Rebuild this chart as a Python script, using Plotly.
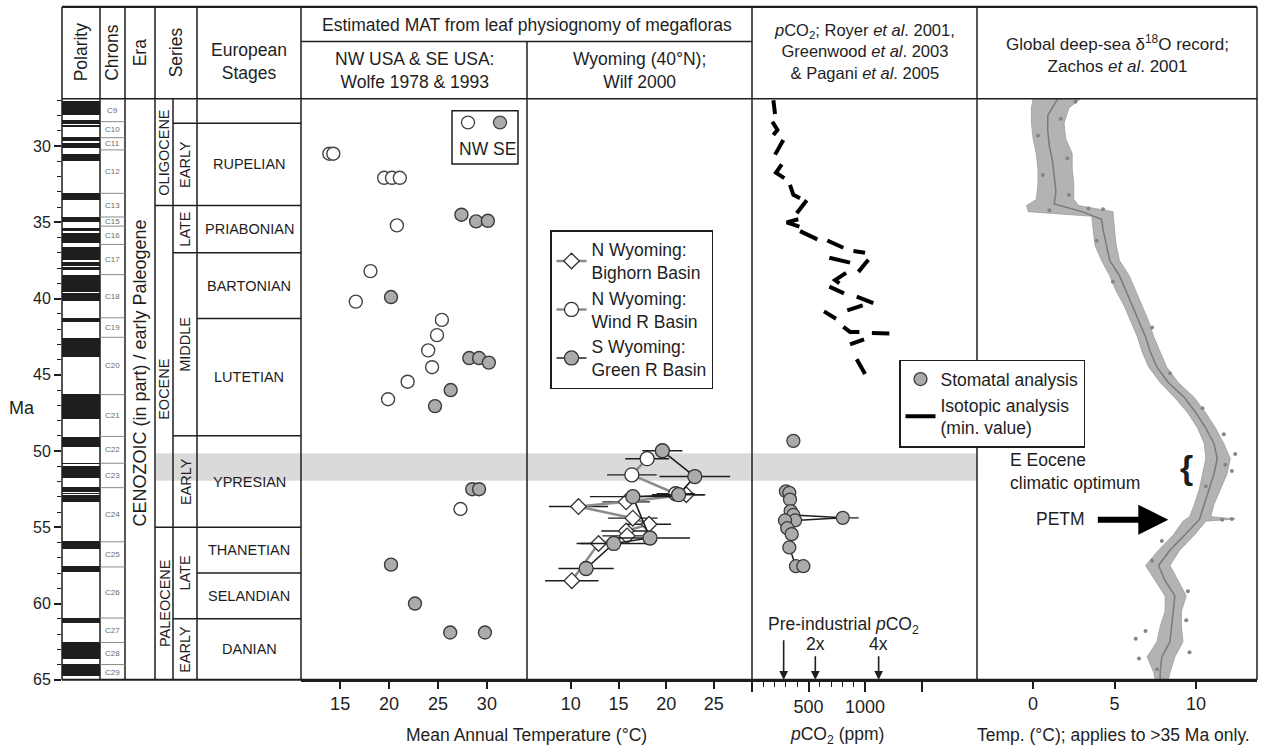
import plotly.graph_objects as go

W, H = 1269, 755
def PX(x):
    return x / W
def PY(y):
    return 1 - y / H

FONT = "Liberation Sans, Arial, Helvetica, sans-serif"
INK = "#1e1e1e"

# ---------------- DATA ----------------
# Geomagnetic polarity: normal (black) chrons, Ma (young / old)
normal_young = [27.03, 28.28, 28.58, 29.40, 29.77, 30.48, 33.06, 34.66, 35.34, 35.69, 36.62, 37.60, 37.92,
                38.43, 39.63, 41.26, 42.54, 46.26, 49.04, 50.78, 50.95, 52.36, 52.76, 52.90, 55.90, 57.55,
                60.92, 62.50, 63.98]
normal_old = [27.97, 28.51, 28.75, 29.66, 30.10, 30.94, 33.55, 34.94, 35.53, 36.34, 37.47, 37.85, 38.11,
              39.55, 40.13, 41.52, 43.79, 47.91, 49.71, 50.83, 51.74, 52.66, 52.80, 53.35, 56.39, 57.91,
              61.28, 63.63, 64.75]

# Chrons (labels and their upper boundaries, Ma)
chron_names = ["C9", "C10", "C11", "C12", "C13", "C15", "C16", "C17", "C18", "C19", "C20", "C21", "C22",
               "C23", "C24", "C25", "C26", "C27", "C28", "C29"]
chron_top = [26.9, 28.4, 29.45, 30.25, 33.1, 34.65, 35.25, 36.45, 38.43, 41.26, 42.54, 46.3, 49.04, 50.8,
             52.4, 55.95, 57.6, 60.95, 62.55, 64.0]
chron_base = chron_top[1:] + [65.0]

# Epochs / sub-epochs / European stages (Ma)
epoch_names = ["OLIGOCENE", "EOCENE", "PALEOCENE"]
epoch_top = [26.9, 33.9, 55.0]
epoch_base = [33.9, 55.0, 65.0]

subepoch_names = ["EARLY", "LATE", "MIDDLE", "EARLY", "LATE", "EARLY"]
subepoch_top = [28.5, 33.9, 37.0, 49.0, 55.0, 61.0]
subepoch_base = [33.9, 37.0, 49.0, 55.0, 61.0, 65.0]

stage_names = ["RUPELIAN", "PRIABONIAN", "BARTONIAN", "LUTETIAN", "YPRESIAN", "THANETIAN", "SELANDIAN", "DANIAN"]
stage_top = [28.5, 33.9, 37.0, 41.3, 49.0, 55.0, 58.0, 61.0]
stage_base = [33.9, 37.0, 41.3, 49.0, 55.0, 58.0, 61.0, 65.0]

optimum_band = [50.15, 51.95]   # E Eocene climatic optimum (Ma)

# Panel 1: Wolfe 1978 & 1993 MAT (deg C)
nw_age = [30.5, 30.5, 32.08, 32.08, 32.08, 35.2, 38.2, 40.2, 41.4, 42.4, 43.4, 44.5, 45.45, 46.6, 53.8]
nw_temp = [13.9, 14.3, 19.5, 20.3, 21.1, 20.8, 18.1, 16.6, 25.4, 24.9, 24.0, 24.4, 21.9, 19.9, 27.3]
se_age = [34.5, 34.94, 34.9, 39.9, 43.9, 43.9, 44.2, 46.0, 47.05, 52.5, 52.5, 57.45, 60.0, 61.9, 61.9]
se_temp = [27.4, 28.9, 30.1, 20.2, 28.2, 29.2, 30.2, 26.3, 24.7, 28.5, 29.2, 20.2, 22.65, 26.25, 29.8]

# Panel 2: Wyoming, Wilf 2000
bighorn_age = [52.86, 53.33, 53.64, 54.4, 54.8, 55.24, 55.56, 56.06, 58.5]
bighorn_temp = [22.1, 15.8, 10.8, 16.5, 18.2, 15.8, 15.9, 12.9, 10.1]
bighorn_err = [1.9, 2.5, 3.1, 2.6, 2.3, 2.6, 2.6, 2.3, 2.8]
windr_age = [50.5, 51.56, 52.8]
windr_temp = [18.0, 16.4, 21.0]
windr_err = [2.3, 2.6, 2.0]
greenr_age = [49.98, 51.67, 52.86, 52.99, 55.7, 56.06, 57.7]
greenr_temp = [19.6, 23.0, 21.3, 16.5, 18.3, 14.5, 11.6]
greenr_err = [2.1, 3.7, 2.8, 4.5, 4.2, 3.5, 2.9]

# Panel 3: pCO2 (ppm)
stom_age = [49.33, 52.64, 52.74, 53.18, 53.94, 54.19, 54.38, 54.55, 54.55, 55.06, 55.45, 56.32, 57.55, 57.55]
stom_ppm = [366, 300, 330, 336, 342, 366, 803, 381, 292, 312, 351, 330, 389, 454]
stom_err_plus = [0, 0, 0, 0, 0, 0, 140, 0, 0, 0, 0, 0, 0, 0]
stom_linked = [False, True, True, True, True, True, True, True, True, True, True, True, True, False]

iso_seg_ppm = [[189, 204], [180, 225, 189], [277, 204], [263, 212, 286], [336, 366, 425], [484, 396],
               [410, 307, 419], [425, 578], [666, 808], [897, 1000], [684, 867], [1029, 941],
               [832, 735, 773], [684, 814], [926, 1073], [843, 979], [637, 743], [808, 867, 950],
               [1060, 1215], [867, 991], [926, 1000]]
iso_seg_age = [[27.0, 27.9], [28.4, 28.94, 29.27], [29.6, 30.56], [31.2, 31.75, 32.1], [32.55, 33.2, 33.42],
               [33.55, 34.4], [34.8, 35.0, 35.28], [35.58, 36.12], [36.19, 36.67], [36.88, 36.99],
               [37.32, 37.64], [37.45, 38.25], [38.31, 38.79, 39.0], [39.22, 39.66], [39.87, 40.3],
               [40.78, 40.45], [40.84, 41.32], [41.86, 42.19, 42.19], [42.25, 42.29], [43.0, 42.68],
               [43.98, 44.95]]

preindustrial_ppm = 280
co2_multiples = [1, 2, 4]

# Panel 4: deep-sea d18O temperature (deg C)
band_age = [26.9, 27.5, 28.5, 29.5, 30.5, 31.5, 32.5, 33.5, 33.9, 34.3, 34.6, 35.5, 36.5, 37.5, 38.5, 39.5,
            40.5, 41.5, 42.5, 43.5, 44.5, 45.5, 46.5, 47.5, 48.5, 49.5, 50.5, 51.5, 52.5, 53.5, 54.3, 54.45,
            54.6, 55.5, 56.5, 57.5, 58.5, 59.5, 60.5, 61.5, 62.5, 63.5, 64.5, 65.0]
band_left = [0.0, -0.1, -0.1, 0.0, 0.2, 0.3, 0.3, 0.2, -0.4, -0.3, 3.6, 3.7, 3.8, 4.2, 4.7, 5.1, 5.6, 6.0,
             6.4, 6.7, 7.1, 7.8, 8.7, 9.5, 10.1, 10.5, 10.6, 10.4, 10.2, 9.9, 9.6, 9.4, 9.2, 8.6, 7.7, 6.9,
             7.5, 8.1, 8.1, 7.8, 7.6, 7.0, 7.4, 7.5]
band_right = [2.9, 2.2, 1.9, 2.0, 2.4, 2.4, 2.5, 2.5, 2.8, 4.9, 4.9, 5.0, 5.1, 5.3, 5.9, 6.3, 6.7, 7.1, 7.4,
              7.8, 8.2, 8.9, 9.9, 10.6, 11.2, 11.7, 12.1, 11.9, 11.5, 11.1, 10.9, 12.4, 10.6, 9.9, 9.0, 8.4,
              8.9, 9.4, 9.1, 9.1, 9.2, 8.7, 8.4, 8.3]
trend_age = [26.9, 28, 29, 30, 31, 32, 33, 33.8, 34.3, 34.8, 35.5, 36.5, 37.5, 38.5, 39.5, 40.5, 41.5, 42.5,
             43.5, 44.5, 45.5, 46.5, 47.5, 48.5, 49.5, 50.5, 51.5, 52.5, 53.5, 54.5, 55.5, 56.5, 57.5, 58.5,
             59.5, 60.5, 61.5, 62.5, 63.5, 64.5, 65]
trend_temp = [1.5, 0.9, 0.9, 1.0, 1.2, 1.3, 1.4, 1.3, 3.0, 4.2, 4.3, 4.5, 4.7, 5.3, 5.7, 6.1, 6.5, 6.9, 7.2,
              7.6, 8.3, 9.3, 10.0, 10.6, 11.1, 11.3, 11.1, 10.8, 10.5, 10.2, 9.3, 8.4, 7.7, 8.1, 8.7, 8.6,
              8.5, 8.4, 7.9, 7.8, 7.8]
scatter_age = [27.1, 28.2, 29.3, 30.8, 31.9, 33.2, 34.1, 34.2, 34.15, 36.2, 38.9, 41.9, 44.9, 47.2, 48.9,
               50.2, 50.9, 51.3, 52.3, 54.45, 54.5, 55.9, 57.2, 59.2, 61.1, 61.8, 62.3, 63.2, 63.6, 64.3]
scatter_temp = [2.6, 1.7, 0.3, 2.1, 0.6, 2.2, 3.4, 1.0, 4.3, 3.9, 4.9, 7.3, 8.4, 10.4, 11.7, 12.4, 11.8,
                12.2, 10.6, 12.2, 11.6, 7.9, 7.3, 9.5, 9.4, 6.9, 6.3, 9.6, 6.5, 7.6]
petm_age = 54.5
petm_temp = 8.3

# ---------------- FIGURE ----------------
fig = go.Figure()

# Polarity column (bars on the age axis)
fig.add_trace(go.Bar(
    x=[0.5] * len(normal_young), y=[o - y for y, o in zip(normal_young, normal_old)], base=normal_young,
    width=[1.0] * len(normal_young), marker=dict(color=INK, line=dict(width=0)),
    xaxis="x", yaxis="y", showlegend=False, hoverinfo="skip"))

# Panel 1
fig.add_trace(go.Scatter(x=nw_temp, y=nw_age, mode="markers", xaxis="x2", yaxis="y", showlegend=False,
                         marker=dict(symbol="circle", size=13, color="white", line=dict(color="#444", width=1.4))))
fig.add_trace(go.Scatter(x=se_temp, y=se_age, mode="markers", xaxis="x2", yaxis="y", showlegend=False,
                         marker=dict(symbol="circle", size=13, color="#ababab", line=dict(color="#3a3a3a", width=1.4))))

# Panel 2
def wy(name, ages, temps, errs, symbol, fill, lcol, lw, size):
    return go.Scatter(
        x=temps, y=ages, mode="lines+markers", name=name, xaxis="x3", yaxis="y", legend="legend",
        line=dict(color=lcol, width=lw),
        marker=dict(symbol=symbol, size=size, color=fill, line=dict(color="#333", width=1.3)),
        error_x=dict(type="data", array=errs, symmetric=True, color=INK, thickness=1.4, width=0))

fig.add_trace(wy("N Wyoming:<br>Bighorn Basin", bighorn_age, bighorn_temp, bighorn_err,
                 "diamond", "white", "#8c8c8c", 2.5, 12))
fig.add_trace(wy("N Wyoming:<br>Wind R Basin", windr_age, windr_temp, windr_err,
                 "circle", "white", "#8c8c8c", 2.5, 14))
fig.add_trace(wy("S Wyoming:<br>Green R Basin", greenr_age, greenr_temp, greenr_err,
                 "circle", "#ababab", INK, 1.6, 14))

# Panel 3
link_ppm = [p for p, k in zip(stom_ppm, stom_linked) if k]
link_age = [a for a, k in zip(stom_age, stom_linked) if k]
fig.add_trace(go.Scatter(x=link_ppm, y=link_age, mode="lines", xaxis="x4", yaxis="y", showlegend=False,
                         line=dict(color=INK, width=1.5)))
fig.add_trace(go.Scatter(x=stom_ppm, y=stom_age, mode="markers", name="Stomatal analysis", xaxis="x4",
                         yaxis="y", legend="legend2",
                         marker=dict(symbol="circle", size=13, color="#ababab", line=dict(color="#3a3a3a", width=1.3)),
                         error_x=dict(type="data", array=stom_err_plus, arrayminus=[0] * len(stom_ppm),
                                      symmetric=False, color=INK, thickness=1.4, width=0)))
iso_x, iso_y = [], []
for sp, sa in zip(iso_seg_ppm, iso_seg_age):
    iso_x += sp + [None]
    iso_y += sa + [None]
fig.add_trace(go.Scatter(x=iso_x, y=iso_y, mode="lines", name="Isotopic analysis<br>(min. value)",
                         xaxis="x4", yaxis="y", legend="legend2", connectgaps=False,
                         line=dict(color="black", width=4)))

# Panel 4
fig.add_trace(go.Scatter(x=band_left + band_right[::-1], y=band_age + band_age[::-1], mode="lines",
                         fill="toself", fillcolor="#b3b3b3", line=dict(color="#9c9c9c", width=0.8),
                         xaxis="x5", yaxis="y", showlegend=False, hoverinfo="skip"))
fig.add_trace(go.Scatter(x=scatter_temp, y=scatter_age, mode="markers", xaxis="x5", yaxis="y", showlegend=False,
                         marker=dict(size=4, color="#858585")))
fig.add_trace(go.Scatter(x=trend_temp, y=trend_age, mode="lines", xaxis="x5", yaxis="y", showlegend=False,
                         line=dict(color="#7a7a7a", width=1.5)))

# ---------------- SHAPES (table grid) ----------------
shapes = []
LW = 1.5
def vline(x, y0, y1, w=LW):
    shapes.append(dict(type="line", xref="paper", yref="paper", x0=PX(x), x1=PX(x), y0=PY(y0), y1=PY(y1),
                       line=dict(color=INK, width=w), layer="above"))
def hline(x0, x1, y, w=LW):
    shapes.append(dict(type="line", xref="paper", yref="paper", x0=PX(x0), x1=PX(x1), y0=PY(y), y1=PY(y),
                       line=dict(color=INK, width=w), layer="above"))
def hage(x0, x1, age, color=INK, w=LW):
    shapes.append(dict(type="line", xref="paper", yref="y", x0=PX(x0), x1=PX(x1), y0=age, y1=age,
                       line=dict(color=color, width=w), layer="above"))

# gray optimum band
shapes.append(dict(type="rect", xref="paper", yref="y", x0=PX(156), x1=PX(977),
                   y0=optimum_band[0], y1=optimum_band[1], fillcolor="#dadada", line=dict(width=0), layer="below"))

for x in [62, 100, 125, 155, 197, 301, 752, 977, 1257]:
    vline(x, 7, 688)
vline(173, 100, 688)
vline(527, 42, 688)
hline(62, 1257, 7, 2.2)
hline(62, 1257, 100)
hline(301, 752, 42)
hline(62, 1257, 688, 2)

for a in chron_top[1:]:
    hage(100, 125, a, "#8a8a8a", 1)
for a in epoch_top[1:]:
    hage(155, 173, a)
for a in subepoch_top:
    hage(173, 197, a)
for a in stage_top:
    hage(197, 301, a)

# NW/SE key
shapes.append(dict(type="rect", xref="paper", yref="paper", x0=PX(452), x1=PX(518), y0=PY(166), y1=PY(112),
                   line=dict(color=INK, width=1.5), fillcolor="white"))
for cx, col in [(468, "white"), (500, "#ababab")]:
    shapes.append(dict(type="circle", xref="paper", yref="paper", x0=PX(cx - 6.5), x1=PX(cx + 6.5),
                       y0=PY(124 + 6.5), y1=PY(124 - 6.5), fillcolor=col, line=dict(color="#444", width=1.3)))

# ---------------- ANNOTATIONS ----------------
ann = []
def text(x, y, s, size=17.5, angle=0, color=INK, xanchor="center", align="center", yref="paper", xref="paper"):
    ann.append(dict(x=x, y=y, xref=xref, yref=yref, text=s, showarrow=False, textangle=angle,
                    font=dict(size=size, color=color, family=FONT), xanchor=xanchor, yanchor="middle",
                    align=align))

# headers
text(PX(81), PY(53), "Polarity", angle=-90)
text(PX(112.5), PY(53), "Chrons", angle=-90)
text(PX(140), PY(53), "Era", angle=-90)
text(PX(176), PY(53), "Series", angle=-90)
text(PX(249), PY(62), "European<br>Stages")
text(PX(526.5), PY(25), "Estimated MAT from leaf physiognomy of megafloras")
text(PX(414), PY(71), "NW USA & SE USA:<br>Wolfe 1978 & 1993")
text(PX(639.5), PY(71), "Wyoming (40°N);<br>Wilf 2000")
text(PX(864.5), PY(52), "<i>p</i>CO<sub>2</sub>; Royer <i>et al</i>. 2001,<br>Greenwood <i>et al</i>. 2003<br>& Pagani <i>et al</i>. 2005", size=16.5)
text(PX(1117), PY(55), "Global deep-sea δ<sup>18</sup>O record;<br>Zachos <i>et al</i>. 2001", size=17)

# chron labels
for n, t, b in zip(chron_names, chron_top, chron_base):
    text(PX(112.5), (t + b) / 2, n, size=8, color="#6a6a6a", yref="y")
# era
text(PX(140), PY(378), "CENOZOIC (in part) / early Paleogene", size=18, angle=-90)
# epochs
epoch_shift = {"EOCENE": 1.5}
for n, t, b in zip(epoch_names, epoch_top, epoch_base):
    text(PX(164.5), (t + b) / 2 + epoch_shift.get(n, 0), n, size=14.5, angle=-90, yref="y")
for n, t, b in zip(subepoch_names, subepoch_top, subepoch_base):
    text(PX(185.5), (t + b) / 2, n, size=14.5, angle=-90, yref="y")
for n, t, b in zip(stage_names, stage_top, stage_base):
    text(PX(249), (t + b) / 2, n, size=14.5, yref="y")

text(PX(22), PY(413), "Ma", size=18)
text(PX(487), PY(151), "NW SE", size=17.5)

# axis titles
text(PX(526.5), PY(744), "Mean Annual Temperature (°C)", size=17.5)
text(PX(837), PY(744), "<i>p</i>CO<sub>2</sub> (ppm)", size=17.5)
text(PX(1113), PY(744), "Temp. (°C); applies to >35 Ma only.", size=17.5)

# pCO2 reference arrows
for m in co2_multiples:
    ann.append(dict(x=preindustrial_ppm * m, y=65, xref="x4", yref="y", text="", showarrow=True,
                    ax=0, ay=-41 if m == 1 else -25, arrowhead=2, arrowsize=1.1, arrowwidth=1.6,
                    arrowcolor=INK))
    if m > 1:
        ann.append(dict(x=preindustrial_ppm * m, y=PY(652), xref="x4", yref="paper", text=f"{m}x",
                        showarrow=False, yanchor="middle", xanchor="center",
                        font=dict(size=17.5, color=INK, family=FONT)))
text(PX(843), PY(633), "Pre-industrial <i>p</i>CO<sub>2</sub>", size=17.5)

# temperature panel notes
text(PX(1008), PY(477), "E Eocene<br>climatic optimum", size=17.5, xanchor="left", align="left")
text(PX(1186), PY(473), "<b>{</b>", size=34)
text(PX(1060), PY(525), "PETM", size=17.5)
ann.append(dict(x=petm_temp, y=petm_age, xref="x5", yref="y", text="", showarrow=True, ax=-72, ay=0,
                arrowhead=2, arrowsize=1.0, arrowwidth=6, arrowcolor="black"))

# ---------------- LAYOUT ----------------
tickfont = dict(size=18, family=FONT, color=INK)
def xax(domain, rng, **kw):
    d = dict(domain=domain, range=rng, anchor="y", showgrid=False, zeroline=False, showline=True,
             linecolor=INK, linewidth=2, ticks="outside", ticklen=7, tickwidth=1.5, tickcolor=INK,
             tickfont=tickfont, fixedrange=True)
    d.update(kw)
    return d

fig.update_layout(
    width=W, height=H, autosize=False, margin=dict(l=0, r=0, t=0, b=0),
    paper_bgcolor="white", plot_bgcolor="rgba(0,0,0,0)",
    font=dict(family=FONT, color=INK), hovermode=False, showlegend=True, bargap=0,
    xaxis=dict(domain=[PX(62), PX(100)], range=[0, 1], visible=False, anchor="y", fixedrange=True),
    xaxis2=xax([PX(301), PX(527)], [11, 34.1], tickvals=[15, 20, 25, 30]),
    xaxis3=xax([PX(527), PX(752)], [5.4, 29], tickvals=[10, 15, 20, 25]),
    xaxis4=xax([PX(752), PX(977)], [0, 1990], tickvals=[0, 500, 1000, 1500],
               ticktext=["", "500", "1000", ""], ticklen=10,
               minor=dict(tickvals=[100, 200, 300, 400, 600, 700, 800, 900], ticks="outside",
                          ticklen=5, tickwidth=1.3, tickcolor=INK)),
    xaxis5=xax([PX(977), PX(1257)], [-3.44, 13.74], tickvals=[0, 5, 10]),
    yaxis=dict(domain=[PY(688), PY(100)], range=[65, 26.9], anchor="x", side="left",
               tickvals=[30, 35, 40, 45, 50, 55, 60, 65], ticks="outside", ticklen=7, tickwidth=1.5,
               tickcolor=INK, tickfont=dict(size=16, family=FONT, color=INK), showline=False,
               showgrid=False, zeroline=False, fixedrange=True,
               minor=dict(dtick=1, tick0=0, ticks="outside", ticklen=4, tickwidth=1.2, tickcolor=INK)),
    legend=dict(x=PX(550), y=PY(233), xanchor="left", yanchor="top", bgcolor="white", bordercolor=INK,
                borderwidth=1.5, font=dict(size=17.5, family=FONT, color=INK), tracegroupgap=0,
                itemwidth=30),
    legend2=dict(x=PX(899), y=PY(364), xanchor="left", yanchor="top", bgcolor="white", bordercolor=INK,
                 borderwidth=1.5, font=dict(size=17.5, family=FONT, color=INK), tracegroupgap=2,
                 itemwidth=30),
    shapes=shapes, annotations=ann,
)

fig.write_html("out.html")
